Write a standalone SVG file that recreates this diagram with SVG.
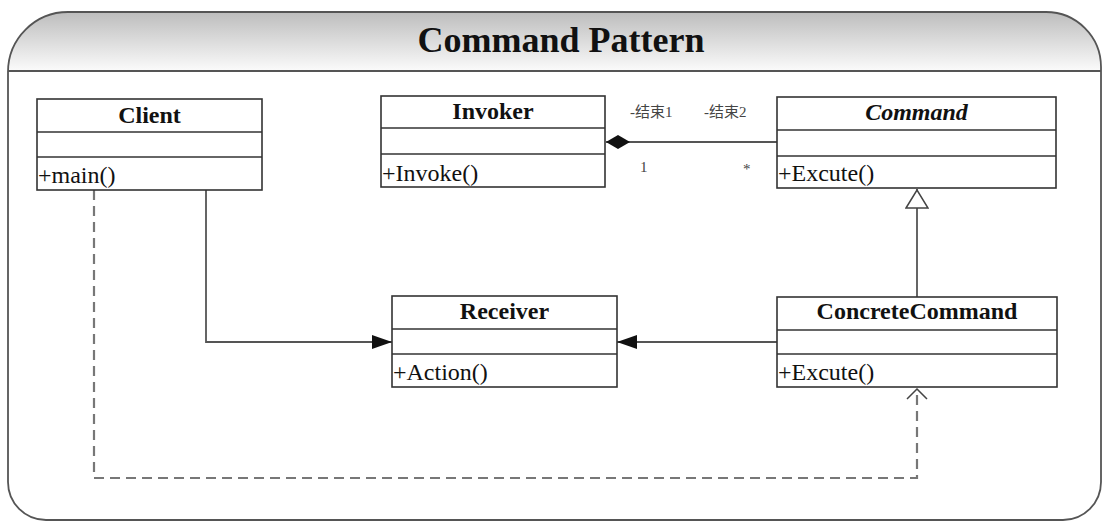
<svg xmlns="http://www.w3.org/2000/svg" width="1104" height="521" viewBox="0 0 1104 521">
<defs>
<linearGradient id="hdr" x1="0" y1="0" x2="0" y2="1">
<stop offset="0" stop-color="#bdbdbd"/>
<stop offset="1" stop-color="#fbfbfb"/>
</linearGradient>
<clipPath id="frameClip">
<path d="M8 482 V72 A60 60 0 0 1 68 12 H1046 A55 55 0 0 1 1101 67 V482 A38 38 0 0 1 1063 520 H46 A38 38 0 0 1 8 482 Z"/>
</clipPath>
<marker id="filled" viewBox="0 0 20 14" refX="20" refY="7" markerWidth="20" markerHeight="14" markerUnits="userSpaceOnUse" orient="auto">
<path d="M0 0 L20 7 L0 14 Z" fill="#111"/>
</marker>
<marker id="hollowTri" viewBox="0 0 20 24" refX="20" refY="12" markerWidth="20" markerHeight="24" markerUnits="userSpaceOnUse" orient="auto">
<path d="M1 1 L19 12 L1 23 Z" fill="#fff" stroke="#444" stroke-width="1.5"/>
</marker>
<marker id="open" viewBox="0 0 12 22" refX="11" refY="11" markerWidth="12" markerHeight="22" markerUnits="userSpaceOnUse" orient="auto">
<path d="M1 1 L11 11 L1 21" fill="none" stroke="#444" stroke-width="1.5"/>
</marker>
<marker id="diamond" viewBox="0 0 24 14" refX="24" refY="7" markerWidth="24" markerHeight="14" markerUnits="userSpaceOnUse" orient="auto">
<path d="M0 7 L12 0 L24 7 L12 14 Z" fill="#111"/>
</marker>
</defs>
<style>
.box{fill:#fff;stroke:#333;stroke-width:1.6}
.div{stroke:#333;stroke-width:1.6}
.name{font-family:"Liberation Serif","Times New Roman",serif;font-weight:bold;font-size:24px;fill:#111;text-anchor:middle}
.op{font-family:"Liberation Serif","Times New Roman",serif;font-size:24px;fill:#111}
.role{font-family:"Liberation Serif","Noto Sans CJK SC",serif;font-size:15px;fill:#444}
.conn{fill:none;stroke:#555;stroke-width:1.8}
.dash{fill:none;stroke:#777;stroke-width:2.2;stroke-dasharray:10 6}
</style>

<g id="frame">
<rect x="0" y="12" width="1104" height="59" fill="url(#hdr)" clip-path="url(#frameClip)"/>
<path d="M8 482 V72 A60 60 0 0 1 68 12 H1046 A55 55 0 0 1 1101 67 V482 A38 38 0 0 1 1063 520 H46 A38 38 0 0 1 8 482 Z" fill="none" stroke="#555" stroke-width="1.8"/>
<line x1="8" y1="71" x2="1101" y2="71" stroke="#555" stroke-width="1.8"/>
<text x="561" y="52" font-family="Liberation Serif,Times New Roman,serif" font-weight="bold" font-size="36" fill="#111" text-anchor="middle">Command Pattern</text>
</g>

<g id="connectors">
<path class="conn" d="M777 142 H606" marker-end="url(#diamond)" stroke="#888"/>
<path class="conn" d="M206 190 V342 H392" marker-end="url(#filled)"/>
<path class="conn" d="M777 342 H617" marker-end="url(#filled)"/>
<path class="conn" d="M917 297 V189" marker-end="url(#hollowTri)"/>
<path class="dash" d="M94 190 V478 H917 V389" marker-end="url(#open)"/>
<text class="role" x="630" y="117">-结束1</text>
<text class="role" x="704" y="117">-结束2</text>
<text class="role" x="640" y="172">1</text>
<text class="role" x="743" y="174">*</text>
</g>

<g id="client">
<rect class="box" x="37" y="99" width="225" height="91"/>
<line class="div" x1="37" y1="132" x2="262" y2="132"/>
<line class="div" x1="37" y1="157" x2="262" y2="157"/>
<text class="name" x="149.5" y="123">Client</text>
<text class="op" x="38" y="183">+main()</text>
</g>

<g id="invoker">
<rect class="box" x="381" y="96" width="224" height="91"/>
<line class="div" x1="381" y1="128" x2="605" y2="128"/>
<line class="div" x1="381" y1="154" x2="605" y2="154"/>
<text class="name" x="493" y="119">Invoker</text>
<text class="op" x="382" y="181">+Invoke()</text>
</g>

<g id="command">
<rect class="box" x="777" y="97" width="279" height="91"/>
<line class="div" x1="777" y1="130" x2="1056" y2="130"/>
<line class="div" x1="777" y1="156" x2="1056" y2="156"/>
<text class="name" x="916.5" y="120" font-style="italic">Command</text>
<text class="op" x="778" y="181">+Excute()</text>
</g>

<g id="receiver">
<rect class="box" x="392" y="296" width="225" height="91"/>
<line class="div" x1="392" y1="329" x2="617" y2="329"/>
<line class="div" x1="392" y1="354" x2="617" y2="354"/>
<text class="name" x="504.5" y="319">Receiver</text>
<text class="op" x="393" y="380">+Action()</text>
</g>

<g id="concreteCommand">
<rect class="box" x="777" y="297" width="280" height="90"/>
<line class="div" x1="777" y1="330" x2="1057" y2="330"/>
<line class="div" x1="777" y1="354" x2="1057" y2="354"/>
<text class="name" x="917" y="319">ConcreteCommand</text>
<text class="op" x="778" y="380">+Excute()</text>
</g>
</svg>
